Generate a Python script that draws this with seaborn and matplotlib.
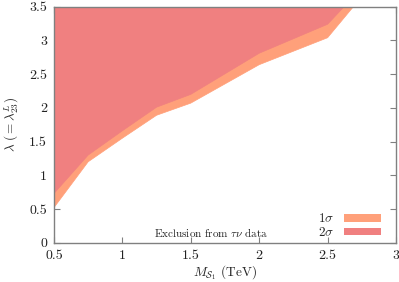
import matplotlib
matplotlib.use("Agg")
import matplotlib.pyplot as plt
import seaborn as sns
import numpy as np
import pandas as pd

# Data
mass = [0.5, 0.75, 1.0, 1.25, 1.5, 2.0, 2.5, 2.75]
lam_1sigma = [0.52, 1.20, 1.55, 1.89, 2.07, 2.64, 3.04, 3.65]
lam_2sigma = [0.73, 1.30, 1.66, 2.01, 2.20, 2.81, 3.24, 3.78]
xticks = [0.5, 1, 1.5, 2, 2.5, 3]
yticks = [0, 0.5, 1, 1.5, 2, 2.5, 3, 3.5]

c1 = "#FFA07A"
c2 = "#F08080"

sns.set_style("ticks")
plt.rcParams["font.family"] = ["cmr10", "DejaVu Serif"]
plt.rcParams["mathtext.fontset"] = "cm"
plt.rcParams["axes.formatter.use_mathtext"] = True

df = pd.DataFrame({"mass": mass, "s1": lam_1sigma, "s2": lam_2sigma})

fig = plt.figure(figsize=(3.99, 2.82), dpi=100)
ax = fig.add_axes([0.1353, 0.1394, 0.8572, 0.8368])

ax.fill_between(df["mass"], df["s1"], 5, color=c1, lw=0, label=r"$1\sigma$")
ax.fill_between(df["mass"], df["s2"], 5, color=c2, lw=0, label=r"$2\sigma$")
sns.lineplot(data=df, x="mass", y="s1", ax=ax, color=c1, lw=0.5, legend=False)
sns.lineplot(data=df, x="mass", y="s2", ax=ax, color=c2, lw=0.5, legend=False)

ax.set_xlim(0.5, 3)
ax.set_ylim(0, 3.5)
ax.set_xticks(xticks)
ax.set_yticks(yticks)
ax.set_xticklabels(["0.5", "1", "1.5", "2", "2.5", "3"])
ax.set_yticklabels(["0", "0.5", "1", "1.5", "2", "2.5", "3", "3.5"])
ax.tick_params(direction="in", top=True, right=True, length=4, width=0.8,
               color="#808080", labelsize=10, labelcolor="#222222")
ax.tick_params(axis="x", pad=5)
ax.tick_params(axis="y", pad=5)
for s in ax.spines.values():
    s.set_color("#808080")
    s.set_linewidth(1.0)

ax.set_xlabel(r"$M_{\mathcal{S}_1}$ (TeV)", fontsize=9.5, labelpad=1)
ax.set_ylabel(r"$\lambda\ (=\lambda^{L}_{23})$", fontsize=9.5, labelpad=6)

ax.text(1.65, 0.15, r"Exclusion from $\tau\nu$ data", fontsize=8,
        ha="center", va="center", color="#222222")

leg = ax.legend(loc="lower right", bbox_to_anchor=(0.955, 0.015),
                frameon=False, markerfirst=False,
                fontsize=9.5, handlelength=2.8, handleheight=0.55,
                labelspacing=0.05, borderaxespad=0, borderpad=0,
                handletextpad=0.7)

fig.savefig("out.png", dpi=100)
